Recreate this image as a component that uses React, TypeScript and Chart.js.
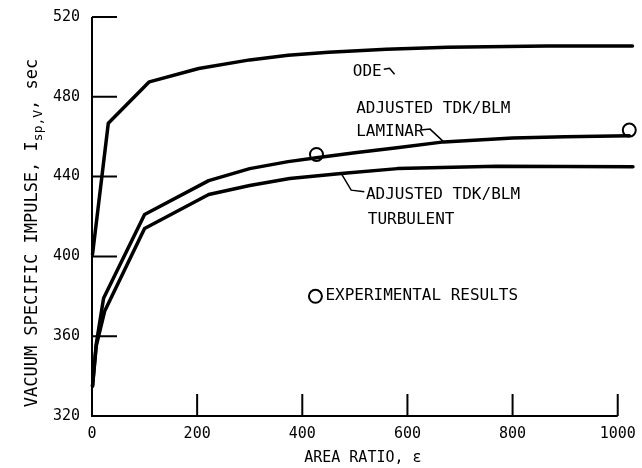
import React, { useEffect, useRef } from "react";
import { Chart, registerables } from "chart.js";

Chart.register(...registerables);

// ---- data (area ratio ε, vacuum specific impulse sec) ----
const odeEps = [1, 31, 109, 203, 300, 373, 450, 560, 676, 865, 1028];
const odeIsp = [401, 466.7, 487.5, 494.2, 498.5, 500.8, 502.3, 503.8, 504.8, 505.5, 505.5];

const laminarEps = [1, 8, 22, 100, 222, 300, 373, 427, 500, 580, 669, 800, 900, 1022];
const laminarIsp = [335, 356, 379, 421, 438, 444, 447.5, 449.5, 452, 454.5, 457.4, 459.3, 460, 460.5];

const turbulentEps = [1, 8, 24, 100, 222, 300, 376, 474, 581, 770, 1029];
const turbulentIsp = [335, 355, 372.5, 414, 431, 435.5, 439, 441.6, 444, 445.2, 445];

const expEps = [427, 1022];
const expIsp = [451.1, 463.3];

const xTicks = [0, 200, 400, 600, 800, 1000];
const yTicks = [320, 360, 400, 440, 480, 520];

const FONT = '"DejaVu Sans Mono", "Liberation Mono", monospace';

const toPts = (xs: number[], ys: number[]) => xs.map((x, i) => ({ x, y: ys[i] }));

const customPlugin = {
  id: "customAxesAndNotes",
  beforeDatasetsDraw(chart: any) {
    const { ctx } = chart;
    const x = chart.scales.x;
    const y = chart.scales.y;
    const x0 = x.getPixelForValue(0);
    const x1 = x.getPixelForValue(1000);
    const yb = y.getPixelForValue(320);
    const yt = y.getPixelForValue(520);
    ctx.save();
    ctx.strokeStyle = "#000";
    ctx.lineWidth = 2;
    ctx.beginPath();
    ctx.moveTo(x0, yt);
    ctx.lineTo(x0, yb);
    ctx.lineTo(x1, yb);
    ctx.stroke();
    ctx.beginPath();
    for (const v of yTicks) {
      if (v === 320) continue;
      const py = y.getPixelForValue(v);
      ctx.moveTo(x0, py);
      ctx.lineTo(x0 + 25, py);
    }
    for (const v of xTicks) {
      if (v === 0) continue;
      const px = x.getPixelForValue(v);
      ctx.moveTo(px, yb);
      ctx.lineTo(px, yb - 22);
    }
    ctx.stroke();

    ctx.fillStyle = "#000";
    ctx.font = `15px ${FONT}`;
    ctx.textBaseline = "middle";
    ctx.textAlign = "right";
    for (const v of yTicks) {
      ctx.fillText(String(v), x0 - 12, y.getPixelForValue(v));
    }
    ctx.textAlign = "center";
    for (const v of xTicks) {
      ctx.fillText(String(v), x.getPixelForValue(v), yb + 18);
    }
    // x title
    ctx.fillText("AREA RATIO, \u03B5", (x0 + x1) / 2 + 8, yb + 42);

    // y title with subscript
    const main1 = "VACUUM SPECIFIC IMPULSE, I";
    const sub = "sp,V";
    const main2 = ", sec";
    const fMain = `17px ${FONT}`;
    const fSub = `13px ${FONT}`;
    ctx.font = fMain;
    const w1 = ctx.measureText(main1).width;
    const w3 = ctx.measureText(main2).width;
    ctx.font = fSub;
    const w2 = ctx.measureText(sub).width;
    const total = w1 + w2 + w3;
    ctx.translate(33, 233);
    ctx.rotate(-Math.PI / 2);
    ctx.textAlign = "left";
    ctx.textBaseline = "middle";
    let cx = -total / 2;
    ctx.font = fMain;
    ctx.fillText(main1, cx, 0);
    cx += w1;
    ctx.font = fSub;
    ctx.fillText(sub, cx, 6);
    cx += w2;
    ctx.font = fMain;
    ctx.fillText(main2, cx, 0);
    ctx.restore();
  },
  afterDatasetsDraw(chart: any) {
    const { ctx } = chart;
    const x = chart.scales.x;
    const y = chart.scales.y;
    const P = (e: number, i: number) => [x.getPixelForValue(e), y.getPixelForValue(i)];
    ctx.save();
    ctx.fillStyle = "#000";
    ctx.strokeStyle = "#000";
    ctx.font = `16px ${FONT}`;
    ctx.textAlign = "left";
    ctx.textBaseline = "middle";
    const text = (s: string, e: number, i: number) => {
      const [px, py] = P(e, i);
      ctx.fillText(s, px, py);
    };
    const leader = (pts: number[][]) => {
      ctx.beginPath();
      pts.forEach(([e, i], k) => {
        const [px, py] = P(e, i);
        if (k === 0) ctx.moveTo(px, py);
        else ctx.lineTo(px, py);
      });
      ctx.lineWidth = 1.5;
      ctx.stroke();
    };
    text("ODE", 496, 492.5);
    leader([[555, 493.8], [566, 494.3], [575.5, 491.3]]);
    text("ADJUSTED TDK/BLM", 502.5, 474.1);
    text("LAMINAR", 502.5, 462.4);
    leader([[625, 463.3], [643, 463.8], [669, 457.4]]);
    leader([[474, 441.6], [493, 433.2], [518, 432.4]]);
    text("ADJUSTED TDK/BLM", 521, 430.7);
    text("TURBULENT", 524.5, 418.2);

    // legend
    const [lx, ly] = P(425, 380);
    ctx.beginPath();
    ctx.arc(lx, ly, 6.5, 0, Math.PI * 2);
    ctx.fillStyle = "#fff";
    ctx.fill();
    ctx.lineWidth = 2;
    ctx.stroke();
    ctx.fillStyle = "#000";
    ctx.fillText("EXPERIMENTAL RESULTS", lx + 10, ly);
    ctx.restore();
  },
};

export default function App() {
  const ref = useRef<HTMLCanvasElement | null>(null);
  useEffect(() => {
    if (!ref.current) return;
    const lineDs = (label: string, xs: number[], ys: number[]) => ({
      type: "line" as const,
      label,
      data: toPts(xs, ys),
      borderColor: "#000",
      borderWidth: 3.5,
      pointRadius: 0,
      tension: 0,
      fill: false,
      borderJoinStyle: "round" as const,
      borderCapStyle: "round" as const,
      clip: false as any,
    });
    const chart = new Chart(ref.current, {
      type: "line",
      data: {
        datasets: [
          lineDs("ODE", odeEps, odeIsp),
          lineDs("Adjusted TDK/BLM laminar", laminarEps, laminarIsp),
          lineDs("Adjusted TDK/BLM turbulent", turbulentEps, turbulentIsp),
          {
            type: "scatter" as const,
            label: "Experimental results",
            data: toPts(expEps, expIsp),
            pointRadius: 6.5,
            pointBackgroundColor: "#fff",
            pointBorderColor: "#000",
            pointBorderWidth: 2,
            showLine: false,
            clip: false as any,
          } as any,
        ],
      },
      options: {
        responsive: false,
        animation: false,
        devicePixelRatio: 1,
        layout: { padding: { left: 92, top: 17, right: 4, bottom: 52 } },
        plugins: { legend: { display: false }, tooltip: { enabled: false } },
        scales: {
          x: { type: "linear", min: 0, max: 1030, display: false },
          y: { type: "linear", min: 320, max: 520, display: false },
        },
      },
      plugins: [customPlugin],
    });
    return () => chart.destroy();
  }, []);
  return (
    <div style={{ position: "fixed", left: 0, top: 0, width: 642, height: 468, background: "#fff" }}>
      <canvas ref={ref} width={642} height={468} style={{ display: "block" }} />
    </div>
  );
}
